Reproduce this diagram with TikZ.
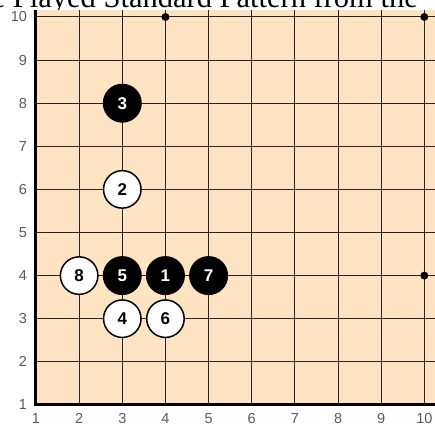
\documentclass[tikz,border=0pt]{standalone}
\usepackage{fontspec}
\setmainfont{Liberation Sans}
\newfontfamily\titlefont{Liberation Serif}

\definecolor{boardfill}{RGB}{255,228,196}
\definecolor{ticklabel}{RGB}{90,90,90}

\begin{document}
\begin{tikzpicture}[x=43.15bp, y=43.1bp,
    gridline/.style={line width=1bp, black!85},
    stoneB/.style={circle, fill=black, text=white, minimum size=39bp, inner sep=0pt,
      font=\fontsize{17bp}{17bp}\selectfont\bfseries},
    stoneW/.style={circle, draw=black, line width=1.5bp, fill=white, text=black,
      minimum size=37.5bp, inner sep=0pt, font=\fontsize{17bp}{17bp}\selectfont\bfseries},
    ticklbl/.style={inner sep=0pt, text=ticklabel, font=\fontsize{14.5bp}{14.5bp}\selectfont}]
    \useasboundingbox (0.166,0.533) rectangle (10.247,10.394);

    % 标题 (上方被截去)
    \node[anchor=base east, inner sep=0pt, font=\titlefont\fontsize{30.5bp}{30.5bp}\selectfont]
      (title) at (9.853,10.22) {e Played Standard Pattern from the};

    % 棋盘底色
    \fill[boardfill] (1,1) rectangle (10.247,10.16);

    % 网格线
    \foreach \i in {2,...,10} {
      \draw[gridline] (\i,1) -- (\i,10.16);
      \draw[gridline] (1,\i) -- (10.247,\i);
    }

    % 棋盘边线 (左, 下)
    \draw[line width=3bp] (1,10.16) -- (1,1) -- (10.247,1);

    % 星位
    \foreach \x/\y in {4/10, 10/10, 10/4}
      \fill (\x,\y) circle (4bp);

    % 坐标
    \foreach \k in {1,...,10} {
      \node[ticklbl, anchor=east] (yl\k) at (0.795,\k) {\k};
      \node[ticklbl, anchor=north] (xl\k) at (\k,0.812) {\k};
    }

    % 棋子: 黑 1,3,5,7  白 2,4,6,8
    \node[stoneB] (s1) at (4,4) {1};
    \node[stoneW] (s2) at (3,6) {2};
    \node[stoneB] (s3) at (3,8) {3};
    \node[stoneW] (s4) at (3,3) {4};
    \node[stoneB] (s5) at (3,4) {5};
    \node[stoneW] (s6) at (4,3) {6};
    \node[stoneB] (s7) at (5,4) {7};
    \node[stoneW] (s8) at (2,4) {8};
  \end{tikzpicture}
\end{document}
